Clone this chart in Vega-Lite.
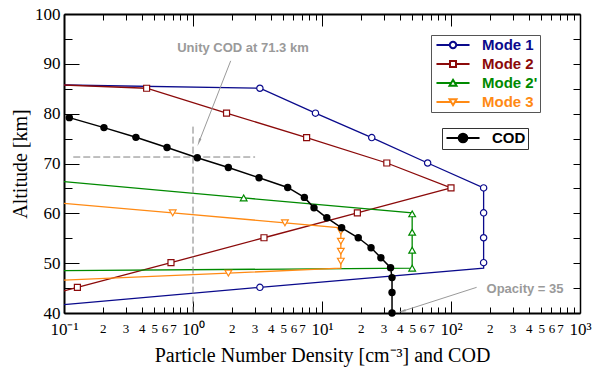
{
  "$schema": "https://vega.github.io/schema/vega-lite/v6.json",
  "width": 516,
  "height": 299,
  "autosize": {"type": "none"},
  "padding": {"left": 64, "top": 14, "right": 20, "bottom": 55},
  "background": "white",
  "config": {"view": {"stroke": null}},
  "datasets": {
    "modeLine": [
      {"s": "Mode 1", "i": 0, "x": 0.1, "y": 85.75},
      {"s": "Mode 1", "i": 1, "x": 3.3, "y": 85.1},
      {"s": "Mode 1", "i": 2, "x": 8.9, "y": 80.1},
      {"s": "Mode 1", "i": 3, "x": 24.3, "y": 75.2},
      {"s": "Mode 1", "i": 4, "x": 65.9, "y": 70.1},
      {"s": "Mode 1", "i": 5, "x": 179, "y": 65.1},
      {"s": "Mode 1", "i": 6, "x": 179, "y": 49.0},
      {"s": "Mode 1", "i": 7, "x": 3.3, "y": 45.15},
      {"s": "Mode 1", "i": 8, "x": 0.1, "y": 41.7},
      {"s": "Mode 2", "i": 0, "x": 0.1, "y": 85.75},
      {"s": "Mode 2", "i": 1, "x": 0.437, "y": 85.1},
      {"s": "Mode 2", "i": 2, "x": 1.82, "y": 80.1},
      {"s": "Mode 2", "i": 3, "x": 7.6, "y": 75.2},
      {"s": "Mode 2", "i": 4, "x": 31.8, "y": 70.1},
      {"s": "Mode 2", "i": 5, "x": 100, "y": 65.1},
      {"s": "Mode 2", "i": 6, "x": 18.8, "y": 60.1},
      {"s": "Mode 2", "i": 7, "x": 3.55, "y": 55.1},
      {"s": "Mode 2", "i": 8, "x": 0.675, "y": 50.1},
      {"s": "Mode 2", "i": 9, "x": 0.127, "y": 45.15},
      {"s": "Mode 2", "i": 10, "x": 0.1, "y": 44.45},
      {"s": "Mode 2'", "i": 0, "x": 0.1, "y": 66.35},
      {"s": "Mode 2'", "i": 1, "x": 2.47, "y": 63.1},
      {"s": "Mode 2'", "i": 2, "x": 50, "y": 60.1},
      {"s": "Mode 2'", "i": 3, "x": 50, "y": 49.0},
      {"s": "Mode 2'", "i": 4, "x": 0.1, "y": 48.5},
      {"s": "Mode 3", "i": 0, "x": 0.1, "y": 62.0},
      {"s": "Mode 3", "i": 1, "x": 0.696, "y": 60.1},
      {"s": "Mode 3", "i": 2, "x": 5.16, "y": 58.1},
      {"s": "Mode 3", "i": 3, "x": 14, "y": 57.1},
      {"s": "Mode 3", "i": 4, "x": 14, "y": 49.0},
      {"s": "Mode 3", "i": 5, "x": 1.88, "y": 48.0},
      {"s": "Mode 3", "i": 6, "x": 0.1, "y": 46.6}
    ],
    "modeMark": [
      {"s": "Mode 1", "x": 3.3, "y": 85.1},
      {"s": "Mode 1", "x": 8.9, "y": 80.1},
      {"s": "Mode 1", "x": 24.3, "y": 75.2},
      {"s": "Mode 1", "x": 65.9, "y": 70.1},
      {"s": "Mode 1", "x": 179, "y": 65.1},
      {"s": "Mode 1", "x": 179, "y": 60.1},
      {"s": "Mode 1", "x": 179, "y": 55.1},
      {"s": "Mode 1", "x": 179, "y": 50.1},
      {"s": "Mode 1", "x": 3.3, "y": 45.15},
      {"s": "Mode 2", "x": 0.437, "y": 85.1},
      {"s": "Mode 2", "x": 1.82, "y": 80.1},
      {"s": "Mode 2", "x": 7.6, "y": 75.2},
      {"s": "Mode 2", "x": 31.8, "y": 70.1},
      {"s": "Mode 2", "x": 100, "y": 65.1},
      {"s": "Mode 2", "x": 18.8, "y": 60.1},
      {"s": "Mode 2", "x": 3.55, "y": 55.1},
      {"s": "Mode 2", "x": 0.675, "y": 50.1},
      {"s": "Mode 2", "x": 0.127, "y": 45.15},
      {"s": "Mode 2'", "x": 2.47, "y": 63.1},
      {"s": "Mode 2'", "x": 50, "y": 59.9},
      {"s": "Mode 2'", "x": 50, "y": 56.2},
      {"s": "Mode 2'", "x": 50, "y": 52.6},
      {"s": "Mode 2'", "x": 50, "y": 49.0},
      {"s": "Mode 3", "x": 0.696, "y": 60.1},
      {"s": "Mode 3", "x": 5.16, "y": 58.1},
      {"s": "Mode 3", "x": 14, "y": 56.4},
      {"s": "Mode 3", "x": 14, "y": 54.4},
      {"s": "Mode 3", "x": 14, "y": 52.4},
      {"s": "Mode 3", "x": 14, "y": 50.4},
      {"s": "Mode 3", "x": 1.88, "y": 48.0}
    ],
    "cod": [
      {"s": "COD", "x": 0.11, "y": 79.2},
      {"s": "COD", "x": 0.204, "y": 77.2},
      {"s": "COD", "x": 0.361, "y": 75.25},
      {"s": "COD", "x": 0.629, "y": 73.2},
      {"s": "COD", "x": 1.08, "y": 71.15},
      {"s": "COD", "x": 1.88, "y": 69.2},
      {"s": "COD", "x": 3.25, "y": 67.15},
      {"s": "COD", "x": 5.42, "y": 65.2},
      {"s": "COD", "x": 7.3, "y": 63.2},
      {"s": "COD", "x": 8.67, "y": 61.1},
      {"s": "COD", "x": 10.9, "y": 59.1},
      {"s": "COD", "x": 14.2, "y": 57.1},
      {"s": "COD", "x": 19.1, "y": 55.1},
      {"s": "COD", "x": 24.0, "y": 53.1},
      {"s": "COD", "x": 28.6, "y": 51.1},
      {"s": "COD", "x": 34.0, "y": 49.1},
      {"s": "COD", "x": 34.9, "y": 47.1},
      {"s": "COD", "x": 34.9, "y": 44.1},
      {"s": "COD", "x": 34.9, "y": 40.0}
    ],
    "cross": [
      {"x": 0.118, "x2": 3.03, "y": 71.3, "y2": 71.3},
      {"x": 1, "x2": 1, "y": 77.4, "y2": 40}
    ],
    "arrows": [
      {"x": 1.96, "y": 90.6, "x2": 1.12, "y2": 74.5},
      {"x": 158, "y": 45.15, "x2": 42.5, "y2": 40.4}
    ],
    "notes": [
      {"x": 2.44, "y": 93.2, "t": "Unity COD at 71.3 km"},
      {"x": 375, "y": 44.8, "t": "Opacity = 35"}
    ]
  },
  "layer": [
    {
      "data": {"name": "modeLine"},
      "mark": {"type": "line", "strokeWidth": 1.3},
      "encoding": {
        "x": {
          "field": "x", "type": "quantitative",
          "scale": {"type": "log", "domain": [0.1, 1000], "nice": false},
          "axis": {
            "orient": "bottom",
            "values": [0.1, 1, 10, 100, 1000],
            "title": "Particle Number Density [cm⁻³] and COD",
            "titleFont": "Liberation Serif", "titleFontSize": 20, "titleFontWeight": "normal", "titleColor": "black", "titlePadding": 8,
            "labelFont": "Liberation Serif", "labelColor": "black", "labelFontSize": 17,
            "labelExpr": "['10⁻¹','10⁰','10¹','10²','10³'][indexof([0.1,1,10,100,1000], datum.value)]",
            "tickSize": -12, "tickColor": "black", "tickWidth": 1,
            "domainColor": "black", "domainWidth": 2,
            "grid": false, "labelPadding": 20, "labelOverlap": false, "labelFlush": false, "labelBound": false
          }
        },
        "y": {
          "field": "y", "type": "quantitative",
          "scale": {"domain": [40, 100], "nice": false, "zero": false},
          "axis": {
            "orient": "left",
            "values": [40, 50, 60, 70, 80, 90, 100],
            "title": "Altitude [km]",
            "titleFont": "Liberation Serif", "titleFontSize": 20, "titleFontWeight": "normal", "titleColor": "black", "titlePadding": 4,
            "labelFont": "Liberation Serif", "labelFontSize": 17, "labelColor": "black",
            "tickSize": -15, "tickColor": "black", "tickWidth": 1,
            "domainColor": "black", "domainWidth": 2,
            "grid": false, "labelPadding": 19, "labelOverlap": false, "labelFlush": false, "labelBound": false
          }
        },
        "order": {"field": "i"},
        "stroke": {
          "field": "s", "type": "nominal",
          "scale": {"domain": ["Mode 1", "Mode 2", "Mode 2'", "Mode 3"], "range": ["#0a0a8c", "#8b0a0a", "#008a00", "#ff8a14"]},
          "legend": {
            "orient": "none", "legendX": 367, "legendY": 21,
            "title": null, "direction": "vertical",
            "strokeColor": "#555555", "fillColor": "white", "padding": 2,
            "symbolSize": 196, "symbolStrokeWidth": 2, "symbolOffset": 12,
            "labelFont": "Liberation Sans", "labelFontSize": 15, "labelFontWeight": "bold", "labelOffset": 21,
            "rowPadding": 3,
            "encode": {
              "symbols": {"update": {
                "shape": {"signal": "datum.value == 'Mode 1' ? 'M-2.36,0H-0.46M0.46,0H2.36M0.46,0A0.46,0.46,0,1,1,-0.46,0A0.46,0.46,0,1,1,0.46,0Z' : datum.value == 'Mode 2' ? 'M-2.36,0H-0.43M0.43,0H2.36M-0.43,-0.43H0.43V0.43H-0.43Z' : datum.value == 'Mode 3' ? 'M-2.36,0H-0.25M0.25,0H2.36M0,0.45L0.5,-0.38H-0.5Z' : 'M-2.36,0H-0.25M0.25,0H2.36M0,-0.45L0.5,0.38H-0.5Z'"},
                "fill": {"value": "white"},
                "fillOpacity": {"value": 1},
                "strokeWidth": {"value": 2}
              }},
              "labels": {"update": {"fill": {"signal": "scale('stroke', datum.value)"}}}
            }
          }
        }
      }
    },
    {
      "data": {"name": "cross"},
      "mark": {"type": "rule", "color": "#808080", "strokeWidth": 1, "strokeDash": [7, 3]},
      "encoding": {
        "x": {
          "field": "x", "type": "quantitative",
          "scale": {"type": "log", "domain": [0.1, 1000], "nice": false},
          "axis": {
            "orient": "bottom",
            "values": [0.2,0.3,0.4,0.5,0.6,0.7,0.8,0.9,2,3,4,5,6,7,8,9,20,30,40,50,60,70,80,90,200,300,400,500,600,700,800,900],
            "title": null, "domain": false,
            "labelFont": "Liberation Serif", "labelColor": "black", "labelFontSize": 13,
            "labelExpr": "round(datum.value / pow(10, floor(log(datum.value) / LN10 + 1e-9))) <= 7 ? '' + round(datum.value / pow(10, floor(log(datum.value) / LN10 + 1e-9))) : ''",
            "tickSize": -6, "tickColor": "black", "tickWidth": 1,
            "grid": false, "labelPadding": 15, "labelOverlap": false, "labelFlush": false, "labelBound": false
          }
        },
        "x2": {"field": "x2"},
        "y": {
          "field": "y", "type": "quantitative",
          "scale": {"domain": [40, 100], "nice": false, "zero": false},
          "axis": {
            "orient": "left",
            "values": [45, 55, 65, 75, 85, 95],
            "title": null, "domain": false, "labels": false,
            "tickSize": -8, "tickColor": "black", "tickWidth": 1, "grid": false
          }
        },
        "y2": {"field": "y2"}
      }
    },
    {
      "data": {"name": "modeMark"},
      "transform": [{"filter": {"field": "s", "equal": "Mode 1"}}],
      "mark": {"type": "point", "shape": "circle", "fill": "white", "stroke": "#0a0a8c", "strokeWidth": 1.2, "size": 40, "opacity": 1},
      "encoding": {
        "x": {"field": "x", "type": "quantitative", "axis": null},
        "y": {"field": "y", "type": "quantitative", "axis": null}
      }
    },
    {
      "data": {"name": "modeMark"},
      "transform": [{"filter": {"field": "s", "equal": "Mode 2"}}],
      "mark": {"type": "point", "shape": "square", "fill": "white", "stroke": "#8b0a0a", "strokeWidth": 1.2, "size": 36, "opacity": 1},
      "encoding": {
        "x": {"field": "x", "type": "quantitative", "axis": null},
        "y": {"field": "y", "type": "quantitative", "axis": null}
      }
    },
    {
      "data": {"name": "modeMark"},
      "transform": [{"filter": {"field": "s", "equal": "Mode 2'"}}],
      "mark": {"type": "point", "shape": "triangle-up", "fill": "white", "stroke": "#008a00", "strokeWidth": 1.2, "size": 45, "opacity": 1},
      "encoding": {
        "x": {"field": "x", "type": "quantitative", "axis": null},
        "y": {"field": "y", "type": "quantitative", "axis": null}
      }
    },
    {
      "data": {"name": "modeMark"},
      "transform": [{"filter": {"field": "s", "equal": "Mode 3"}}],
      "mark": {"type": "point", "shape": "triangle-down", "fill": "white", "stroke": "#ff8a14", "strokeWidth": 1.2, "size": 45, "opacity": 1},
      "encoding": {
        "x": {"field": "x", "type": "quantitative", "axis": null},
        "y": {"field": "y", "type": "quantitative", "axis": null}
      }
    },
    {
      "data": {"name": "cod"},
      "mark": {"type": "line", "color": "black", "strokeWidth": 1.5},
      "encoding": {
        "x": {
          "field": "x", "type": "quantitative",
          "scale": {"type": "log", "domain": [0.1, 1000], "nice": false},
          "axis": {
            "orient": "top", "values": [0.1, 1, 10, 100, 1000],
            "title": null, "labels": false,
            "tickSize": -12, "tickColor": "black", "tickWidth": 1,
            "domainColor": "black", "domainWidth": 2, "grid": false
          }
        },
        "y": {
          "field": "y", "type": "quantitative",
          "scale": {"domain": [40, 100], "nice": false, "zero": false},
          "axis": {
            "orient": "right",
            "values": [45, 50, 55, 60, 65, 70, 75, 80, 85, 90, 95],
            "title": null, "labels": false,
            "tickSize": -7, "tickColor": "black", "tickWidth": 1,
            "domainColor": "black", "domainWidth": 1.5, "grid": false
          }
        },
        "order": {"field": "y", "sort": "descending"},
        "opacity": {
          "field": "s", "type": "nominal",
          "scale": {"domain": ["COD"], "range": [1]},
          "legend": {
            "orient": "none", "legendX": 378, "legendY": 114,
            "title": null, "direction": "vertical",
            "strokeColor": "#333333", "fillColor": "white", "padding": 2,
            "symbolType": "M-2.36,0H2.36M0.62,0A0.62,0.62,0,1,1,-0.62,0A0.62,0.62,0,1,1,0.62,0Z",
            "symbolSize": 196, "symbolOffset": 11, "symbolStrokeWidth": 2,
            "symbolFillColor": "black", "symbolStrokeColor": "black",
            "labelFont": "Liberation Sans", "labelFontSize": 15, "labelFontWeight": "bold", "labelColor": "black", "labelOffset": 21,
            "encode": {
              "symbols": {"update": {
                "shape": {"value": "M-2.36,0H2.36M0.62,0A0.62,0.62,0,1,1,-0.62,0A0.62,0.62,0,1,1,0.62,0Z"},
                "fill": {"value": "black"},
                "fillOpacity": {"value": 1},
                "stroke": {"value": "black"},
                "strokeWidth": {"value": 2},
                "opacity": {"value": 1}
              }}
            }
          }
        }
      }
    },
    {
      "data": {"name": "cod"},
      "mark": {"type": "point", "filled": true, "size": 55, "opacity": 1, "color": "black"},
      "encoding": {
        "x": {
          "field": "x", "type": "quantitative",
          "scale": {"type": "log", "domain": [0.1, 1000], "nice": false},
          "axis": {
            "orient": "top",
            "values": [0.2,0.3,0.4,0.5,0.6,0.7,0.8,0.9,2,3,4,5,6,7,8,9,20,30,40,50,60,70,80,90,200,300,400,500,600,700,800,900],
            "title": null, "labels": false, "domain": false,
            "tickSize": -6, "tickColor": "black", "tickWidth": 1, "grid": false
          }
        },
        "y": {"field": "y", "type": "quantitative", "axis": null}
      }
    },
    {
      "data": {"name": "arrows"},
      "mark": {"type": "rule", "color": "#9a9a9a", "strokeWidth": 1},
      "encoding": {
        "x": {"field": "x", "type": "quantitative", "axis": null},
        "x2": {"field": "x2"},
        "y": {"field": "y", "type": "quantitative", "axis": null},
        "y2": {"field": "y2"}
      }
    },
    {
      "data": {"values": [{"x": 1.12, "y": 74.5}]},
      "mark": {"type": "point", "shape": "wedge", "angle": 201, "size": 90, "filled": true, "color": "#9a9a9a", "opacity": 1},
      "encoding": {
        "x": {"field": "x", "type": "quantitative", "axis": null},
        "y": {"field": "y", "type": "quantitative", "axis": null}
      }
    },
    {
      "data": {"values": [{"x": 42.5, "y": 40.4}]},
      "mark": {"type": "point", "shape": "wedge", "angle": 253, "size": 90, "filled": true, "color": "#9a9a9a", "opacity": 1},
      "encoding": {
        "x": {"field": "x", "type": "quantitative", "axis": null},
        "y": {"field": "y", "type": "quantitative", "axis": null}
      }
    },
    {
      "data": {"name": "notes"},
      "mark": {"type": "text", "font": "Liberation Sans", "fontSize": 13, "fontWeight": "bold", "color": "#9a9a9a", "align": "center", "baseline": "middle"},
      "encoding": {
        "x": {"field": "x", "type": "quantitative", "axis": null},
        "y": {"field": "y", "type": "quantitative", "axis": null},
        "text": {"field": "t"}
      }
    }
  ],
  "resolve": {"axis": {"x": "independent", "y": "independent"}}
}
